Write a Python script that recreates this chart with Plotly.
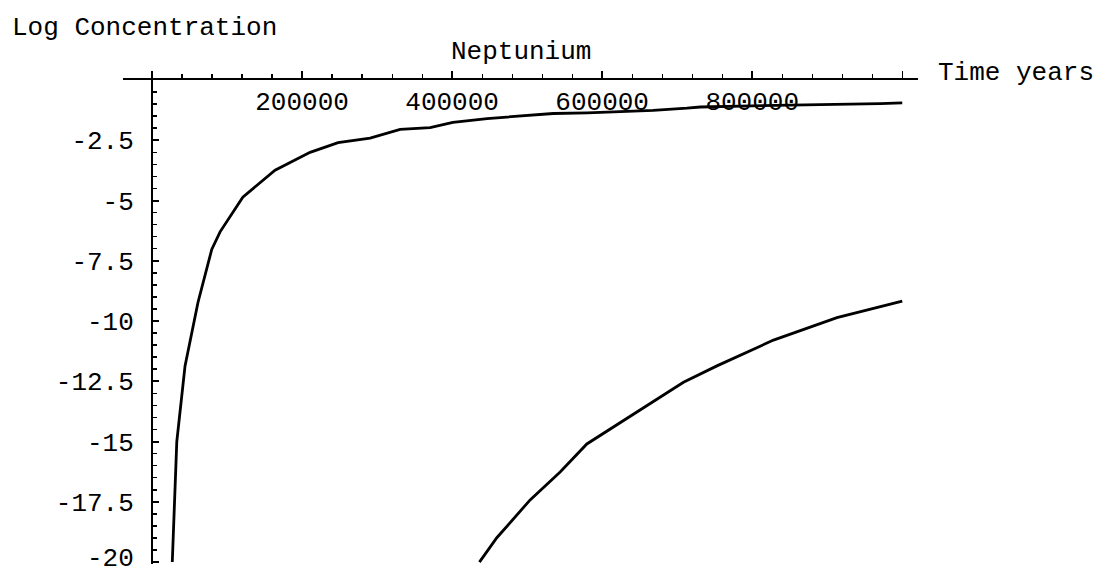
import plotly.graph_objects as go

# ---- data ----
time_years_1 = [27000, 33000, 44000, 61300, 79600, 90700, 121000, 164000, 210700,
                248000, 290700, 330700, 370700, 401000, 446700, 490700, 534700,
                580000, 624000, 668000, 713000, 731000, 850700, 930700, 970700, 1000000]
log_conc_1 = [-20.0, -15.0, -11.86, -9.22, -7.03, -6.3, -4.86, -3.74, -3.0,
              -2.6, -2.41, -2.05, -1.98, -1.76, -1.6, -1.48, -1.39,
              -1.36, -1.31, -1.26, -1.17, -1.12, -1.04, -1.02, -0.98, -0.95]

time_years_2 = [436400, 459600, 504000, 544000, 579600, 624000, 668400, 708400,
                753000, 828400, 913000, 961700, 1000000]
log_conc_2 = [-20.0, -18.99, -17.42, -16.26, -15.1, -14.23, -13.34, -12.54,
              -11.86, -10.79, -9.86, -9.46, -9.17]

x_tickvals = [0, 200000, 400000, 600000, 800000, 1000000]
x_ticktext = ["", "200000", "400000", "600000", "800000", ""]
y_tickvals = [-20, -17.5, -15, -12.5, -10, -7.5, -5, -2.5]
y_ticktext = ["-20", "-17.5", "-15", "-12.5", "-10", "-7.5", "-5", "-2.5"]

title_text = "Neptunium"
x_label = "Time years"
y_label = "Log Concentration"

# ---- layout geometry ----
W, H = 1097, 575
ML, MR, MT, MB = 123, 179, 80, 11
x_range = [-38700, 1021000]
y_range = [-20.08, 0]
FONT = "Liberation Mono, Courier New, monospace"
FS = 26


def px_x(p):
    return (p - ML) / (W - ML - MR)


def px_y(p):
    return (H - MB - p) / (H - MT - MB)


yaxis_pos = (0 - x_range[0]) / (x_range[1] - x_range[0])

# the lowest tick label sits on the page edge; draw it as an annotation
# anchored to the bottom of the page so that it stays fully visible
shown_y_ticktext = [""] + y_ticktext[1:]
bottom_label = y_ticktext[0]

fig = go.Figure()
for xs, ys in [(time_years_1, log_conc_1), (time_years_2, log_conc_2)]:
    fig.add_trace(go.Scatter(x=xs, y=ys, mode="lines",
                             line=dict(color="black", width=2.8),
                             showlegend=False, hoverinfo="skip"))

fig.update_layout(
    template="none",
    width=W, height=H, autosize=False,
    margin=dict(l=ML, r=MR, t=MT, b=MB, pad=0, autoexpand=False),
    paper_bgcolor="white", plot_bgcolor="white",
    font=dict(family=FONT, size=FS, color="black"),
    xaxis=dict(
        range=x_range, side="top", anchor="y", automargin=False,
        showline=True, linecolor="black", linewidth=2,
        showgrid=False, zeroline=False,
        tickmode="array", tickvals=x_tickvals, ticktext=x_ticktext,
        ticks="outside", ticklen=7, tickwidth=1.5, tickcolor="black",
        ticklabelposition="inside", ticklabelstandoff=14,
        ticklabeloverflow="allow",
        tickfont=dict(family=FONT, size=FS, color="black"),
        minor=dict(tickmode="linear", tick0=0, dtick=40000, ticks="outside",
                   ticklen=4, tickwidth=1.2, tickcolor="black", showgrid=False),
    ),
    yaxis=dict(
        range=y_range, anchor="free", position=yaxis_pos, side="left",
        automargin=False,
        showline=True, linecolor="black", linewidth=2,
        showgrid=False, zeroline=False,
        tickmode="array", tickvals=y_tickvals, ticktext=shown_y_ticktext,
        ticks="inside", ticklen=6, tickwidth=2, tickcolor="black",
        ticklabelstandoff=12, ticklabeloverflow="allow",
        tickfont=dict(family=FONT, size=FS, color="black"),
        minor=dict(tickmode="linear", tick0=0, dtick=0.5, ticks="inside",
                   ticklen=4, tickwidth=1.5, tickcolor="black", showgrid=False),
    ),
    annotations=[
        dict(text=y_label, xref="paper", yref="paper", x=px_x(10), y=px_y(28),
             xanchor="left", yanchor="middle", showarrow=False,
             font=dict(family=FONT, size=FS, color="black")),
        dict(text=title_text, xref="paper", yref="paper", x=px_x(521), y=px_y(52),
             xanchor="center", yanchor="middle", showarrow=False,
             font=dict(family=FONT, size=FS, color="black")),
        dict(text=x_label, xref="paper", yref="paper", x=px_x(936), y=px_y(73),
             xanchor="left", yanchor="middle", showarrow=False,
             font=dict(family=FONT, size=FS, color="black")),
        dict(text=bottom_label, xref="paper", yref="paper", x=yaxis_pos,
             xshift=-17, y=px_y(575), xanchor="right", yanchor="bottom",
             showarrow=False, borderpad=0,
             font=dict(family=FONT, size=FS, color="black")),
    ],
)

fig.write_html(
    "out.html",
    config={"displayModeBar": False, "staticPlot": True},
    post_script="document.body.style.margin='0';document.body.style.padding='0';"
                "document.body.style.overflow='hidden';",
)
